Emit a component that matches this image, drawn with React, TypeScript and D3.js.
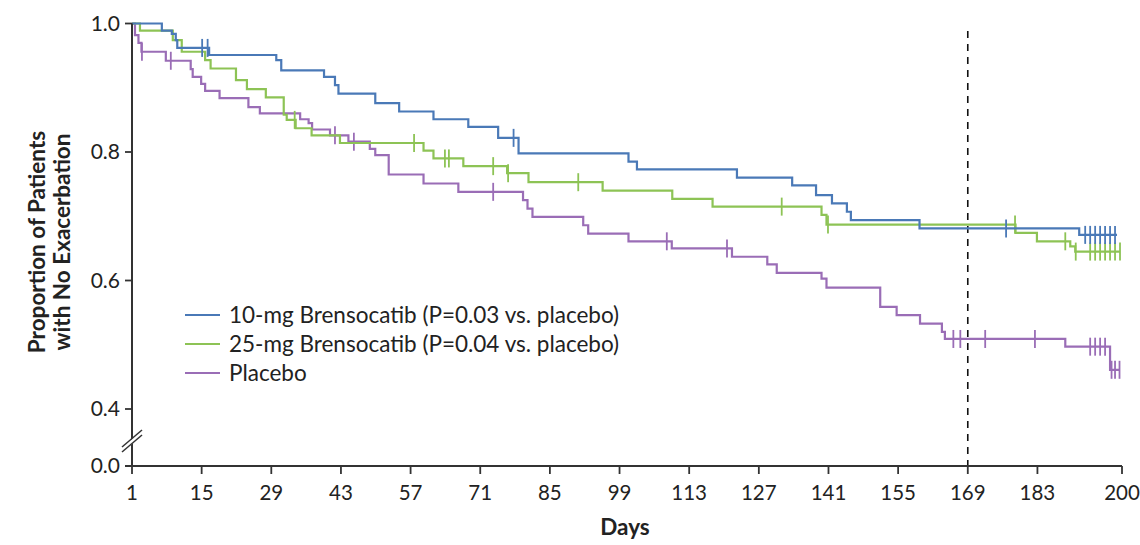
import React, { useRef, useEffect } from 'react';
import * as d3 from 'd3';

// tick labels
const xTicks = [1, 15, 29, 43, 57, 71, 85, 99, 113, 127, 141, 155, 169, 183, 200];
const yTicks = [0, 0.4, 0.6, 0.8, 1.0];

// 10-mg brensocatib
const blueDays = [1, 7.0, 9.0, 9.8, 10.1, 16.5, 30.0, 31.0, 39.6, 41.8, 42.5, 49.9, 54.7, 61.6, 68.6, 74.6, 78.7, 100.8, 102.5, 122.6, 133.7, 138.5, 141.7, 144.7, 145.5, 159.3, 191.4];
const blueSurv = [1.0, 0.989, 0.984, 0.974, 0.962, 0.951, 0.943, 0.927, 0.917, 0.904, 0.891, 0.876, 0.863, 0.851, 0.839, 0.822, 0.798, 0.785, 0.773, 0.760, 0.748, 0.733, 0.720, 0.707, 0.694, 0.681, 0.671];
const blueCensor = [15.1, 16.2, 77.7, 176.7, 192.6, 193.6, 194.6, 195.6, 196.6, 197.6, 198.6];
const blueEnd = 199;

// 25-mg brensocatib
const greenDays = [1, 2.6, 9.2, 11.0, 15.7, 16.8, 21.9, 24.1, 27.9, 31.5, 32.1, 33.9, 37.1, 42.8, 59.6, 61.6, 67.6, 76.4, 80.7, 95.6, 109.6, 117.7, 139.6, 140.6, 178.6, 182.9, 189.6, 190.6];
const greenSurv = [1.0, 0.989, 0.974, 0.956, 0.943, 0.930, 0.912, 0.898, 0.885, 0.858, 0.850, 0.837, 0.826, 0.814, 0.802, 0.790, 0.778, 0.767, 0.753, 0.740, 0.727, 0.715, 0.702, 0.687, 0.674, 0.661, 0.653, 0.645];
const greenCensor = [33.7, 57.7, 63.9, 64.7, 73.6, 76.6, 90.7, 131.6, 140.9, 178.5, 188.6, 190.7, 193.6, 194.6, 195.6, 196.6, 197.6, 198.6, 199.6];
const greenEnd = 199.6;

// placebo
const purpleDays = [1, 1.6, 2.3, 2.9, 7.8, 12.8, 13.2, 14.9, 15.7, 18.6, 24.4, 26.7, 34.8, 36.5, 37.2, 40.8, 44.5, 48.8, 49.9, 52.6, 59.6, 66.6, 79.6, 80.5, 81.5, 91.7, 92.7, 100.8, 109.5, 121.6, 128.7, 130.6, 139.6, 140.6, 151.4, 154.7, 159.4, 163.8, 164.4, 188.6, 197.6];
const purpleSurv = [1.0, 0.982, 0.970, 0.956, 0.942, 0.929, 0.917, 0.906, 0.895, 0.884, 0.870, 0.860, 0.851, 0.845, 0.835, 0.826, 0.816, 0.805, 0.795, 0.765, 0.751, 0.738, 0.725, 0.712, 0.699, 0.686, 0.673, 0.661, 0.650, 0.637, 0.625, 0.612, 0.603, 0.589, 0.559, 0.546, 0.533, 0.520, 0.509, 0.497, 0.461];
const purpleCensor = [3.0, 8.8, 41.8, 45.6, 73.6, 108.5, 120.6, 166.1, 167.5, 172.5, 182.5, 193.6, 194.6, 195.6, 196.6, 197.9, 198.6, 199.5];
const purpleEnd = 199.5;

const seriesNames = ['10-mg Brensocatib (P=0.03 vs. placebo)', '25-mg Brensocatib (P=0.04 vs. placebo)', 'Placebo'];
const seriesColors = ['#4a79b7', '#8dc355', '#9a6db6'];

const landmarkDay = 169;

const KMChart = () => {
  const ref = useRef<SVGSVGElement>(null);

  useEffect(() => {
    const width = 1140;
    const height = 545;
    const svg = d3.select(ref.current);
    svg.selectAll('*').remove();
    svg.attr('width', width).attr('height', height);

    const font = 'Lato, "Open Sans", sans-serif';
    const axisColor = '#333';

    const x = d3.scaleLinear().domain([1, 200]).range([132, 1122]);
    // broken axis: 0 to 0.4 squeezed
    const y = d3.scaleLinear().domain([0, 0.4, 1.0]).range([466, 409, 23.5]);

    // dashed line at day 169
    svg.append('line')
      .attr('x1', x(landmarkDay)).attr('x2', x(landmarkDay))
      .attr('y1', 31).attr('y2', y(0))
      .attr('stroke', '#111').attr('stroke-width', 1.6)
      .attr('stroke-dasharray', '7,6');

    const series = [
      { days: blueDays, surv: blueSurv, censor: blueCensor, end: blueEnd },
      { days: greenDays, surv: greenSurv, censor: greenCensor, end: greenEnd },
      { days: purpleDays, surv: purpleSurv, censor: purpleCensor, end: purpleEnd },
    ];

    const line = d3.line<[number, number]>()
      .x(d => x(d[0]))
      .y(d => y(d[1]))
      .curve(d3.curveStepAfter);

    const order = [2, 1, 0];
    order.forEach(i => {
      const s = series[i];
      const pts: [number, number][] = s.days.map((d, j) => [d, s.surv[j]]);
      pts.push([s.end, s.surv[s.surv.length - 1]]);
      const g = svg.append('g');
      g.append('path')
        .attr('d', line(pts))
        .attr('fill', 'none')
        .attr('stroke', seriesColors[i])
        .attr('stroke-width', 2.2);
      g.selectAll('line.censor')
        .data(s.censor)
        .enter().append('line')
        .attr('class', 'censor')
        .attr('x1', d => x(d)).attr('x2', d => x(d))
        .attr('y1', d => y(s.surv[d3.bisectRight(s.days, d) - 1]) - 9)
        .attr('y2', d => y(s.surv[d3.bisectRight(s.days, d) - 1]) + 9)
        .attr('stroke', seriesColors[i])
        .attr('stroke-width', 1.8);
    });

    // y axis
    svg.append('line')
      .attr('x1', x(1)).attr('x2', x(1))
      .attr('y1', y(1)).attr('y2', y(0))
      .attr('stroke', axisColor).attr('stroke-width', 2);
    const yt = svg.append('g');
    yTicks.forEach(t => {
      yt.append('line')
        .attr('x1', x(1) - 7).attr('x2', x(1))
        .attr('y1', y(t)).attr('y2', y(t))
        .attr('stroke', axisColor).attr('stroke-width', 1.8);
      yt.append('text')
        .attr('x', x(1) - 12).attr('y', y(t))
        .attr('dy', '0.35em')
        .attr('text-anchor', 'end')
        .attr('font-family', font).attr('font-size', 21)
        .attr('fill', '#222')
        .text(d3.format('.1f')(t));
    });

    // axis break marks
    const bx = x(1);
    const by = 440;
    svg.append('polygon')
      .attr('points', `${bx - 9},${by + 7} ${bx + 9},${by - 9} ${bx + 9},${by - 4} ${bx - 9},${by + 12}`)
      .attr('fill', '#fff');
    [0, 5].forEach(o => {
      svg.append('line')
        .attr('x1', bx - 10).attr('y1', by + 7 + o)
        .attr('x2', bx + 10).attr('y2', by - 10 + o)
        .attr('stroke', axisColor).attr('stroke-width', 1.5);
    });

    // x axis
    svg.append('line')
      .attr('x1', x(1) - 7).attr('x2', x(200))
      .attr('y1', y(0)).attr('y2', y(0))
      .attr('stroke', axisColor).attr('stroke-width', 2);
    const xt = svg.append('g');
    xTicks.forEach(t => {
      xt.append('line')
        .attr('x1', x(t)).attr('x2', x(t))
        .attr('y1', y(0)).attr('y2', y(0) + 8)
        .attr('stroke', axisColor).attr('stroke-width', 1.8);
      xt.append('text')
        .attr('x', x(t)).attr('y', 500)
        .attr('text-anchor', 'middle')
        .attr('font-family', font).attr('font-size', 20.5)
        .attr('fill', '#222')
        .text(t);
    });

    svg.append('text')
      .attr('x', 625).attr('y', 535)
      .attr('text-anchor', 'middle')
      .attr('font-family', font).attr('font-size', 22.5)
      .attr('font-weight', 'bold')
      .attr('fill', '#222')
      .text('Days');

    const yl = svg.append('text')
      .attr('transform', 'translate(45,242) rotate(-90)')
      .attr('text-anchor', 'middle')
      .attr('font-family', font).attr('font-size', 22.5)
      .attr('font-weight', 'bold')
      .attr('fill', '#222');
    yl.append('tspan').attr('x', 0).attr('dy', 0).text('Proportion of Patients');
    yl.append('tspan').attr('x', 0).attr('dy', 25).text('with No Exacerbation');

    // legend
    const lg = svg.append('g').attr('transform', 'translate(185,315)');
    seriesNames.forEach((name, i) => {
      lg.append('line')
        .attr('x1', 0).attr('x2', 35)
        .attr('y1', i * 29).attr('y2', i * 29)
        .attr('stroke', seriesColors[i]).attr('stroke-width', 2);
      lg.append('text')
        .attr('x', 44).attr('y', i * 29)
        .attr('dy', '0.35em')
        .attr('font-family', font).attr('font-size', 22.5)
        .attr('fill', '#222')
        .text(name);
    });
  }, []);

  return (
    <div style={{ position: 'absolute', left: 0, top: 0 }}>
      <svg ref={ref}></svg>
    </div>
  );
};

export default function App() {
  return <KMChart />;
}
